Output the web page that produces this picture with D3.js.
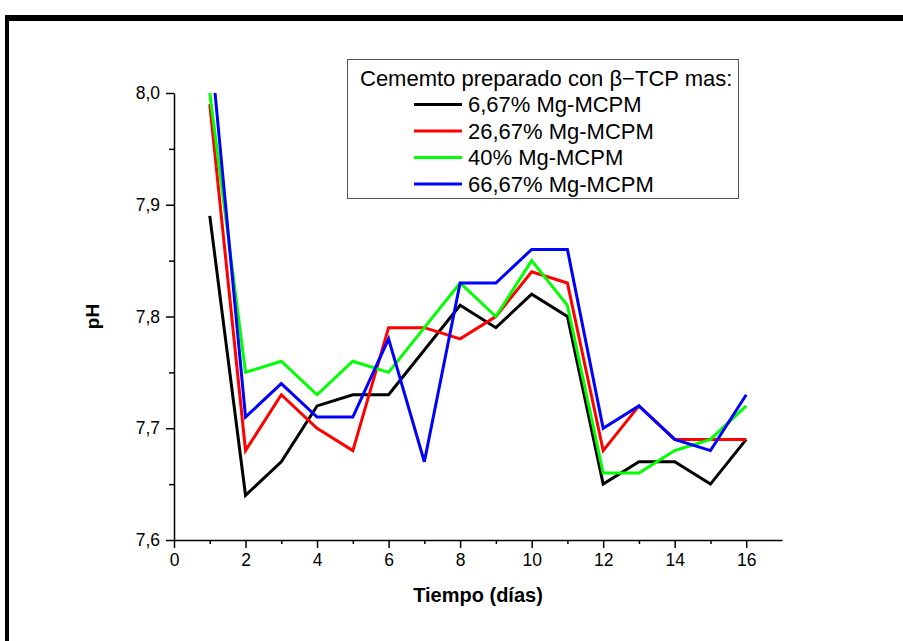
<!DOCTYPE html>
<html>
<head>
<meta charset="utf-8">
<script src="https://cdn.jsdelivr.net/npm/d3@7"></script>
<style>
  body { margin: 0; background: #fff; }
  svg { font-family: "Liberation Sans", Arial, sans-serif; }
</style>
</head>
<body>
<svg id="chart" width="903" height="641"></svg>
<script>
// pH over time, one series per Mg-MCPM content
var days = [1,2,3,4,5,6,7,8,9,10,11,12,13,14,15,16];
var ph667  = [7.89,7.64,7.67,7.72,7.73,7.73,7.77,7.81,7.79,7.82,7.80,7.65,7.67,7.67,7.65,7.69];
var ph2667 = [7.99,7.68,7.73,7.70,7.68,7.79,7.79,7.78,7.80,7.84,7.83,7.68,7.72,7.69,7.69,7.69];
var ph40   = [8.00,7.75,7.76,7.73,7.76,7.75,7.79,7.83,7.80,7.85,7.81,7.66,7.66,7.68,7.69,7.72];
var ph6667 = [8.05,7.71,7.74,7.71,7.71,7.78,7.67,7.83,7.83,7.86,7.86,7.70,7.72,7.69,7.68,7.73];
var seriesNames = ["6,67% Mg-MCPM", "26,67% Mg-MCPM", "40% Mg-MCPM", "66,67% Mg-MCPM"];
var seriesValues = [ph667, ph2667, ph40, ph6667];
var seriesColors = ["#000000", "#ff0000", "#00ff00", "#0000ff"];
var xMajor = [0,2,4,6,8,10,12,14,16];
var xMinor = [1,3,5,7,9,11,13,15];
var yMajor = [7.6,7.7,7.8,7.9,8.0];
var yMinor = [7.65,7.75,7.85,7.95];

var svg = d3.select("#chart");

// outer frame (top + left only)
svg.append("rect").attr("x", 5).attr("y", 15).attr("width", 898).attr("height", 6).attr("fill", "#000");
svg.append("rect").attr("x", 5).attr("y", 15).attr("width", 4).attr("height", 626).attr("fill", "#000");

var x = d3.scaleLinear().domain([0, 17]).range([174, 782]);
var y = d3.scaleLinear().domain([7.6, 8.0]).range([540, 93]);

var commaFmt = (d) => d3.format(".1f")(d).replace(".", ",");

svg.append("clipPath").attr("id", "plotclip")
  .append("rect")
  .attr("x", x(0)).attr("y", y(8.0))
  .attr("width", x(17) - x(0)).attr("height", y(7.6) - y(8.0));

var line = d3.line()
  .x((d, i) => x(days[i]))
  .y((d) => y(d));

svg.append("g")
  .attr("clip-path", "url(#plotclip)")
  .selectAll("path")
  .data(seriesValues)
  .enter()
  .append("path")
  .attr("d", line)
  .attr("fill", "none")
  .attr("stroke", (d, i) => seriesColors[i])
  .attr("stroke-width", 3)
  .attr("stroke-linejoin", "miter");

// x axis
var gx = svg.append("g").attr("transform", "translate(0," + y(7.6) + ")");
gx.call(d3.axisBottom(x).tickValues(xMajor).tickSize(8).tickSizeOuter(0).tickPadding(6));
gx.append("g").call(d3.axisBottom(x).tickValues(xMinor).tickSize(4).tickFormat(""))
  .select(".domain").remove();

// y axis
var gy = svg.append("g").attr("transform", "translate(" + x(0) + ",0)");
gy.call(d3.axisLeft(y).tickValues(yMajor).tickSize(8).tickSizeOuter(0).tickPadding(6).tickFormat(commaFmt));
gy.append("g").call(d3.axisLeft(y).tickValues(yMinor).tickSize(5).tickFormat(""))
  .select(".domain").remove();

svg.selectAll(".domain, .tick line").attr("stroke", "#000").attr("stroke-width", 1.5);
svg.selectAll(".tick text")
  .attr("fill", "#000")
  .style("font-size", "17.5px")
  .style("font-family", "'Liberation Sans', Arial, sans-serif");

// axis titles
svg.append("text")
  .attr("x", (x(0) + x(17)) / 2)
  .attr("y", 602)
  .attr("text-anchor", "middle")
  .style("font-size", "20px")
  .style("font-weight", "bold")
  .text("Tiempo (días)");

svg.append("text")
  .attr("transform", "translate(99," + ((y(7.6) + y(8.0)) / 2) + ") rotate(-90)")
  .attr("text-anchor", "middle")
  .style("font-size", "19px")
  .style("font-weight", "bold")
  .text("pH");

// legend
var lg = svg.append("g");
lg.append("rect")
  .attr("x", 347.5).attr("y", 59.5)
  .attr("width", 391).attr("height", 139)
  .attr("fill", "#fff")
  .attr("stroke", "#555")
  .attr("stroke-width", 1);
lg.append("text")
  .attr("x", 360).attr("y", 86)
  .style("font-size", "22px")
  .text("Cememto preparado con β−TCP mas:");

var rows = lg.selectAll("g.row")
  .data(seriesNames)
  .enter()
  .append("g")
  .attr("class", "row")
  .attr("transform", (d, i) => "translate(0," + (112 + i * 26.5) + ")");
rows.append("line")
  .attr("x1", 414).attr("x2", 462)
  .attr("y1", -7.5).attr("y2", -7.5)
  .attr("stroke", (d, i) => seriesColors[i])
  .attr("stroke-width", 3);
rows.append("text")
  .attr("x", 468).attr("y", 0)
  .style("font-size", "22px")
  .text((d) => d);
</script>
</body>
</html>
